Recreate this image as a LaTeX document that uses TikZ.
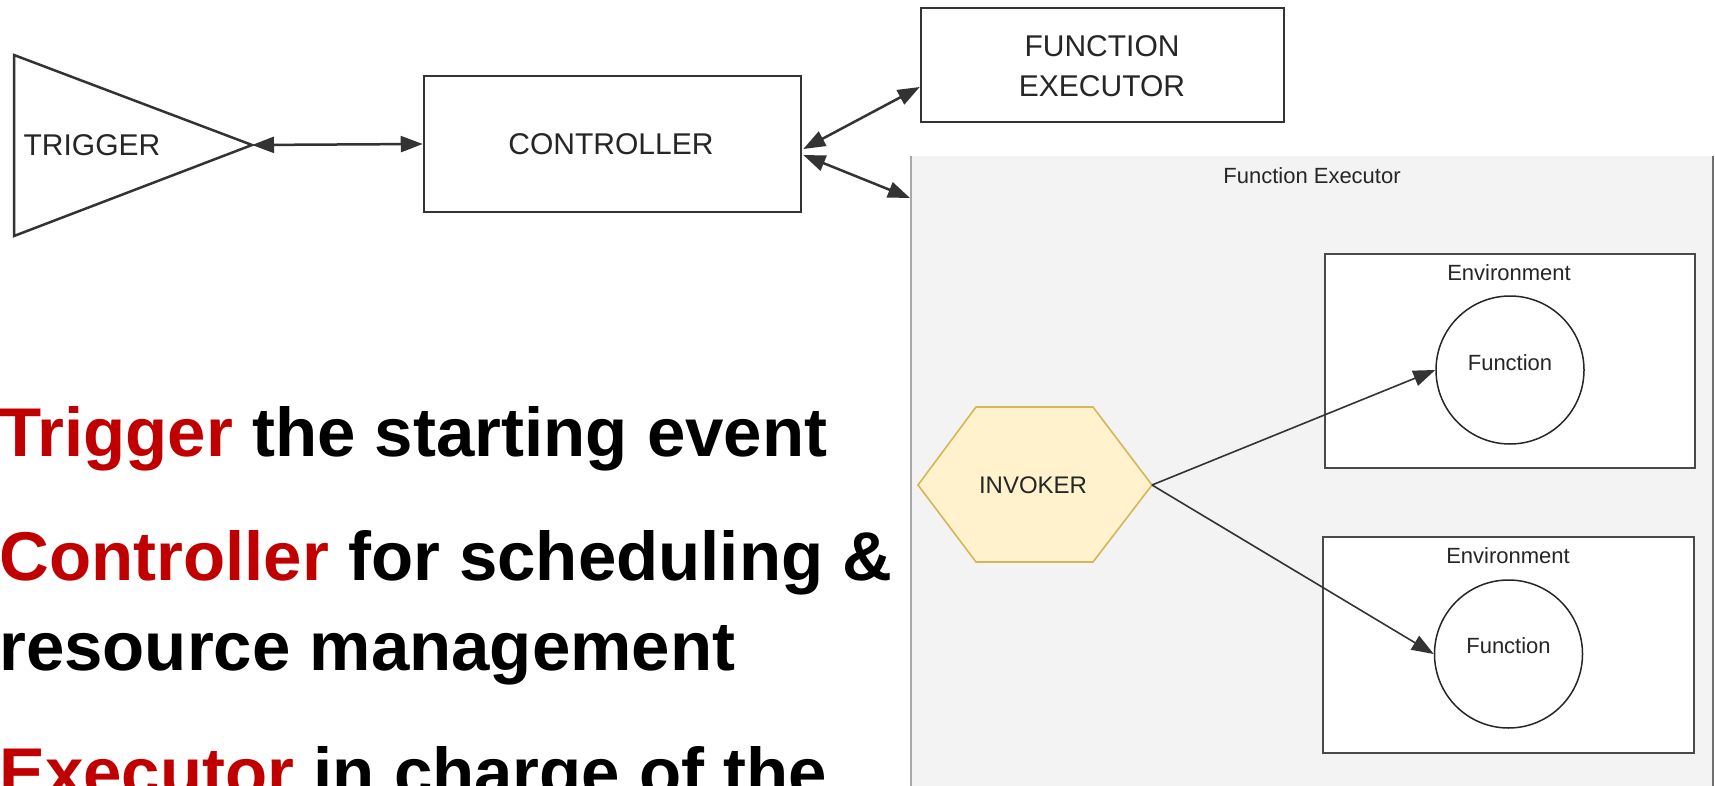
\documentclass[tikz,border=0pt]{standalone}
\usepackage{fontspec}
\setmainfont{Liberation Sans}
\usetikzlibrary{arrows.meta,calc}
\definecolor{ink}{HTML}{262626}
\definecolor{boxline}{HTML}{333333}
\definecolor{envline}{HTML}{4A4A4A}
\definecolor{panelfill}{HTML}{F3F3F3}
\definecolor{panelleft}{HTML}{A8A8A8}
\definecolor{panelright}{HTML}{6E6E6E}
\definecolor{hexfill}{HTML}{FFF2CC}
\definecolor{hexdraw}{HTML}{D6B656}
\definecolor{keyred}{HTML}{C00000}
\begin{document}
\begin{tikzpicture}[x=1pt,y=-1pt,
  biglbl/.style={font=\fontsize{30}{40}\selectfont, text=ink, inner sep=0pt, align=center},
  smalllbl/.style={font=\fontsize{22}{26}\selectfont, text=ink, inner sep=0pt},
  topbox/.style={draw=boxline, line width=2.5pt, fill=white, inner sep=0pt},
  envbox/.style={draw=envline, line width=2pt, fill=white, inner sep=0pt},
  fcircle/.style={draw=ink, line width=1.5pt, fill=white, circle, inner sep=0pt, minimum size=148pt},
  biarrow/.style={{Triangle[length=22pt,width=16pt]}-{Triangle[length=22pt,width=16pt]}, draw=boxline, line width=2.5pt},
  onearrow/.style={-{Triangle[length=22pt,width=16pt]}, draw=boxline, line width=1.6pt},
  bodytext/.style={font=\fontsize{69}{69}\selectfont\bfseries, inner sep=0pt, anchor=base west, text=black}
]
\useasboundingbox (0,0) rectangle (1715,786);
\clip (0,0) rectangle (1715,786);

% ---- left text ----
\node[bodytext] (l1) at (-1,456) {\textcolor{keyred}{Trigger} the starting event};
\node[bodytext] (l2) at (-1,580) {\textcolor{keyred}{Controller} for scheduling \&};
\node[bodytext] (l3) at (-1,670) {resource management};
\node[bodytext] (l4) at (-1,796) {\textcolor{keyred}{Executor} in charge of the};

% ---- function executor panel ----
\node[fill=panelfill, inner sep=0pt, minimum width=803pt, minimum height=640pt, anchor=north west] (panel) at (910,156) {};
\draw[panelleft, line width=2.5pt] (panel.north west) ++(1,0) -- ++(0,640);
\draw[panelright, line width=2pt] (panel.north east) -- (panel.south east);
\node[smalllbl] (panellbl) at (1312,176) {Function Executor};

% ---- environments ----
\node[envbox, minimum width=370pt, minimum height=214pt] (env1) at (1510,361) {};
\node[smalllbl] (env1lbl) at (1509,273) {Environment};
\node[fcircle] (f1) at (1510,370) {};
\node[smalllbl] (f1lbl) at (1510,363) {Function};

\node[envbox, minimum width=371pt, minimum height=216pt] (env2) at (1508.5,645) {};
\node[smalllbl] (env2lbl) at (1508,556) {Environment};
\node[fcircle] (f2) at (1508.5,654) {};
\node[smalllbl] (f2lbl) at (1508.5,646) {Function};

% ---- invoker hexagon ----
\coordinate (invW) at (918,485);
\coordinate (invE) at (1152,485);
\draw[fill=hexfill, draw=hexdraw, line width=1.6pt] (invW) -- (976,407) -- (1093,407) -- (invE) -- (1093,562) -- (976,562) -- cycle;
\node[font=\fontsize{24}{28}\selectfont, text=ink, inner sep=0pt] (inv) at (1033,485) {INVOKER};

\draw[onearrow] (invE) -- (f1.west);
\draw[onearrow] (invE) -- (f2.west);

% ---- top diagram ----
\coordinate (trigtip) at (252,145);
\draw[boxline, line width=2.5pt, line join=miter] (14,55) -- (trigtip) -- (14,236) -- cycle;
\node[biglbl] (trig) at (92,145) {TRIGGER};

\node[topbox, minimum width=377pt, minimum height=136pt] (ctrl) at (612.5,144) {};
\node[biglbl] (ctrllbl) at (611,144) {CONTROLLER};

\node[topbox, minimum width=363pt, minimum height=114pt] (fe) at (1102.5,65) {};
\node[biglbl] (felbl) at (1102,66) {FUNCTION\\EXECUTOR};

\draw[biarrow] (trigtip) -- (ctrl.west);
\draw[biarrow] ($(ctrl.east)+(1,5)$) -- ($(fe.west)+(0,22)$);
\draw[biarrow] ($(ctrl.east)+(1,11)$) -- ($(panel.north west)+(0,42)$);
\end{tikzpicture}
\end{document}
